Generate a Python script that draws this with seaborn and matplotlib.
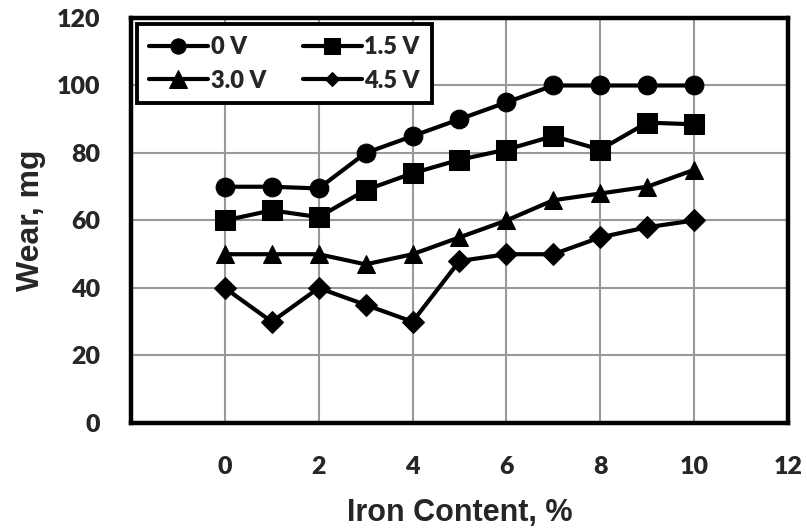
import matplotlib
matplotlib.use("Agg")
import matplotlib.pyplot as plt
import seaborn as sns
import pandas as pd

iron = [0, 1, 2, 3, 4, 5, 6, 7, 8, 9, 10]
wear_0v = [70, 70, 69.5, 80, 85, 90, 95, 100, 100, 100, 100]
wear_15v = [60, 63, 61, 69, 74, 78, 81, 85, 81, 89, 88.5]
wear_30v = [50, 50, 50, 47, 50, 55, 60, 66, 68, 70, 75]
wear_45v = [40, 30, 40, 35, 30, 48, 50, 50, 55, 58, 60]
series_names = ["0 V", "1.5 V", "3.0 V", "4.5 V"]
x_ticks = [0, 2, 4, 6, 8, 10, 12]
y_ticks = [0, 20, 40, 60, 80, 100, 120]

rows = []
for name, vals in zip(series_names, [wear_0v, wear_15v, wear_30v, wear_45v]):
    for x, v in zip(iron, vals):
        rows.append({"Iron": x, "Wear": v, "Voltage": name})
df = pd.DataFrame(rows)

sns.set_style("white")
fig = plt.figure(figsize=(8.07, 5.29), dpi=100)
ax = fig.add_axes([0.1623, 0.2004, 0.8141, 0.7656])

markers = {"0 V": "o", "1.5 V": "s", "3.0 V": "^", "4.5 V": "D"}
sizes = {"0 V": 13.5, "1.5 V": 14, "3.0 V": 13.5, "4.5 V": 11}
leg_sizes = {"0 V": 11, "1.5 V": 12, "3.0 V": 12.5, "4.5 V": 7.5}
for name in series_names:
    sub = df[df["Voltage"] == name]
    sns.lineplot(data=sub, x="Iron", y="Wear", ax=ax, color="black",
                 marker=markers[name], markersize=sizes[name], linewidth=3,
                 markeredgecolor="black", label=name, zorder=3)

ax.set_xlim(-2, 12)
ax.set_ylim(0, 120)
ax.set_xticks([-2] + x_ticks)
ax.set_xticklabels([""] + [str(t) for t in x_ticks])
ax.set_yticks(y_ticks)
ax.grid(True, color="#999999", linewidth=1.5, zorder=0)
ax.set_axisbelow(True)
for s in ax.spines.values():
    s.set_visible(True)
    s.set_color("black")
    s.set_linewidth(3.2)

for lab in ax.get_xticklabels() + ax.get_yticklabels():
    lab.set_fontfamily("Lato")
    lab.set_fontweight("heavy")
    lab.set_fontsize(18)
ax.tick_params(axis="x", pad=24, length=0)
ax.tick_params(axis="y", pad=22, length=0)

ax.set_xlabel("Iron Content, %", fontsize=22, fontweight="bold",
              family="Liberation Sans", labelpad=14)
ax.set_ylabel("Wear, mg", fontsize=23, fontweight="bold",
              family="Liberation Sans", labelpad=8)

handles, labels = ax.get_legend_handles_labels()
order = [0, 2, 1, 3]
leg = ax.legend([handles[i] for i in order], [labels[i] for i in order],
                loc="upper left", ncol=2, bbox_to_anchor=(0.0092, 0.985),
                borderaxespad=0, frameon=True, fancybox=False,
                handlelength=2.5, handletextpad=0.12, columnspacing=1.55,
                borderpad=0.5, labelspacing=0.5,
                prop={"family": "Lato", "weight": "heavy", "size": 17})
leg.get_frame().set_edgecolor("black")
leg.get_frame().set_linewidth(2.8)
leg.get_frame().set_alpha(1)
for h, i in zip(leg.legend_handles, order):
    h.set_markersize(leg_sizes[series_names[i]])
leg.set_zorder(5)

fig.savefig("out.png", dpi=100)
